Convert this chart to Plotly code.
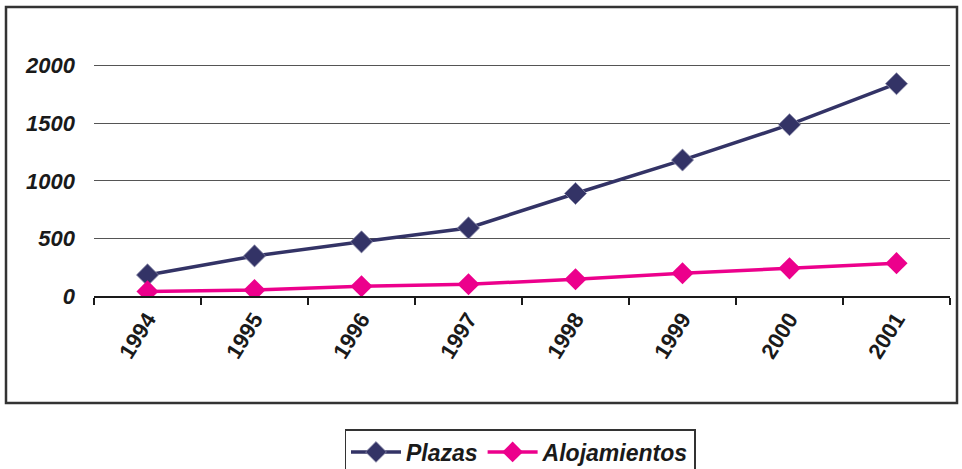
import plotly.graph_objects as go

years = ["1994", "1995", "1996", "1997", "1998", "1999", "2000", "2001"]
plazas = [183, 348, 470, 591, 890, 1180, 1487, 1843]
alojamientos = [40, 52, 85, 102, 146, 198, 240, 285]
y_ticks = [0, 500, 1000, 1500, 2000]

navy = "#333366"
magenta = "#EC008C"
font_family = "Liberation Sans, Arial, sans-serif"

fig = go.Figure()
fig.add_trace(go.Scatter(
    x=years, y=plazas, name="Plazas", mode="lines+markers",
    line=dict(color=navy, width=3.5),
    marker=dict(symbol="diamond", size=17, color=navy,
                line=dict(color="#8a8aa8", width=0.8)),
))
fig.add_trace(go.Scatter(
    x=years, y=alojamientos, name="Alojamientos", mode="lines+markers",
    line=dict(color=magenta, width=3.5),
    marker=dict(symbol="diamond", size=17, color=magenta),
))

W, H = 962, 469
L, R, T, B = 94, 12, 8, 173
pw = W - L - R
ph = H - T - B

def px_x(x):
    return (x - L) / pw

def px_y(y):
    return (H - B - y) / ph

fig.add_shape(type="rect", xref="paper", yref="paper",
              x0=px_x(6), x1=px_x(957), y0=px_y(403), y1=px_y(7),
              line=dict(color="#333333", width=2.5), fillcolor="rgba(0,0,0,0)",
              layer="below")

tick_font = dict(size=22, family=font_family, weight="bold", color="#1a1a1a")

fig.update_layout(
    width=W, height=H,
    margin=dict(l=L, r=R, t=T, b=B, autoexpand=False),
    paper_bgcolor="white", plot_bgcolor="white",
    font=dict(family=font_family, color="#1a1a1a"),
    showlegend=True,
    legend=dict(
        orientation="h", x=px_x(520), xanchor="center",
        y=px_y(429), yanchor="top",
        font=dict(size=23, family=font_family, weight="bold", style="italic", color="#1a1a1a"),
        bordercolor="#333333", borderwidth=1.5, bgcolor="white",
        traceorder="normal", itemwidth=50,
    ),
    xaxis=dict(
        type="category", tickson="boundaries", automargin=False,
        showline=True, linecolor="#1a1a1a", linewidth=1.5,
        ticks="outside", ticklen=7, tickcolor="#1a1a1a", tickwidth=1.5,
        tickangle=-58, showgrid=False,
        tickfont=tick_font,
        range=[-0.5, 7.5],
    ),
    yaxis=dict(
        range=[0, 2500], tickvals=y_ticks, automargin=False,
        showgrid=True, gridcolor="#555555", gridwidth=1.2,
        zeroline=False, showline=False, ticks="",
        ticklabelstandoff=18,
        tickfont=dict(tick_font, style="italic"),
    ),
)

fig.write_html("out.html", config={"displayModeBar": False},
               post_script="document.body.style.margin='0';document.body.style.padding='0';")
